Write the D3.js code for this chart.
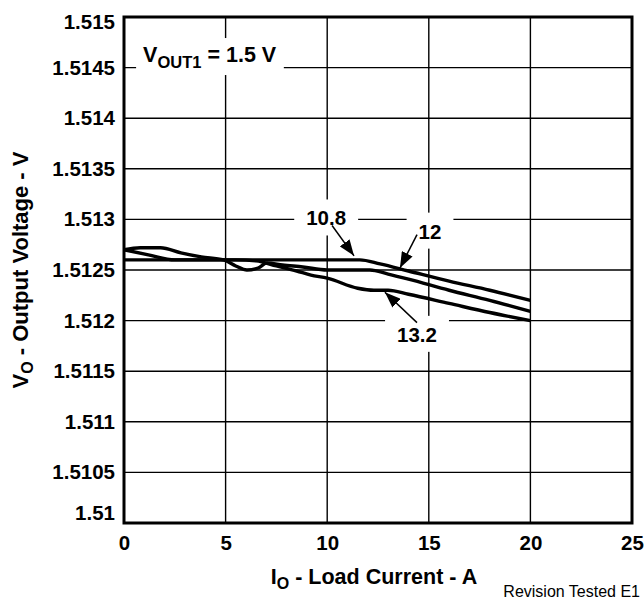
<!DOCTYPE html>
<html>
<head>
<meta charset="utf-8">
<script src="https://cdn.jsdelivr.net/npm/d3@7"></script>
<style>
  body { margin: 0; background: #fff; }
  text { font-family: "Liberation Sans", Arial, sans-serif; }
</style>
</head>
<body>
<script>

// load current ticks (A) and output voltage ticks (V)
var xTicks = [0, 5, 10, 15, 20, 25];
var yTicks = [1.51, 1.5105, 1.511, 1.5115, 1.512, 1.5125, 1.513, 1.5135, 1.514, 1.5145, 1.515];
var yTickLabels = ["1.51", "1.5105", "1.511", "1.5115", "1.512", "1.5125", "1.513", "1.5135", "1.514", "1.5145", "1.515"];

// VIN = 10.8 V
var current108 = [0, 2, 4, 6, 8, 10, 11.6, 12.6, 14, 16, 18, 20];
var vout108 = [1.5126, 1.5126, 1.5126, 1.5126, 1.5126, 1.5126, 1.5126, 1.51256, 1.51249, 1.51239, 1.5123, 1.5122];

// VIN = 12 V
var current12 = [0, 0.8, 1.8, 2.8, 3.8, 4.9, 5.5, 6.05, 6.6, 7.05, 7.8, 8.8, 10, 11, 12.1, 13, 14, 16, 18, 20];
var vout12 = [1.5127, 1.51272, 1.51272, 1.51267, 1.51263, 1.5126, 1.51254, 1.5125, 1.51252, 1.51257, 1.51255, 1.51253, 1.5125, 1.5125, 1.5125, 1.51246, 1.51241, 1.5123, 1.5122, 1.51209];

// VIN = 13.2 V
var current132 = [0, 1.2, 2.5, 4, 5.5, 6.5, 7.5, 8.5, 9.2, 10, 11.5, 12.3, 13, 14, 16, 18, 20];
var vout132 = [1.5127, 1.51265, 1.5126, 1.5126, 1.5126, 1.51259, 1.51254, 1.51249, 1.51245, 1.51242, 1.51232, 1.5123, 1.5123, 1.51226, 1.51217, 1.51208, 1.512];

// curve labels: text, label position, arrow start, arrow tip (data units)
var curveLabels = ["10.8", "12", "13.2"];
var labelX = [9.95, 15.06, 14.42];
var labelY = [1.51294, 1.51281, 1.51179];
var arrowFrom = [[10.24, 1.51294], [14.42, 1.51285], [14.42, 1.51198]];
var arrowTo = [[11.32, 1.51264], [13.58, 1.51252], [12.84, 1.51228]];

var width = 644, height = 600;
var plotLeft = 124, plotRight = 632, plotTop = 17, plotBottom = 523;

var svg = d3.select("body").append("svg")
  .attr("width", width).attr("height", height);

var x = d3.scaleLinear().domain([0, 25]).range([plotLeft, plotRight]);
var y = d3.scaleLinear().domain([1.51, 1.515]).range([plotBottom, plotTop]);

// grid
var grid = svg.append("g").attr("stroke", "#000").attr("stroke-width", 1.4);
grid.selectAll(".vg").data(xTicks.slice(1, -1)).enter().append("line")
  .attr("x1", function(d){ return x(d); }).attr("x2", function(d){ return x(d); })
  .attr("y1", plotTop).attr("y2", plotBottom);
grid.selectAll(".hg").data(yTicks.slice(1, -1)).enter().append("line")
  .attr("y1", function(d){ return y(d); }).attr("y2", function(d){ return y(d); })
  .attr("x1", plotLeft).attr("x2", plotRight);

// white boxes behind labels hide the grid
var boxes = svg.append("g");

// border
svg.append("rect")
  .attr("x", plotLeft).attr("y", plotTop)
  .attr("width", plotRight - plotLeft).attr("height", plotBottom - plotTop)
  .attr("fill", "none").attr("stroke", "#000").attr("stroke-width", 3);

// axes
var yAxis = d3.axisLeft(y).tickValues(yTicks).tickSize(0).tickPadding(9)
  .tickFormat(function(d, i){ return yTickLabels[i]; });
var gy = svg.append("g").attr("transform", "translate(" + plotLeft + ",0)").call(yAxis);
var xAxis = d3.axisBottom(x).tickValues(xTicks).tickSize(0).tickPadding(12)
  .tickFormat(d3.format("d"));
var gx = svg.append("g").attr("transform", "translate(0," + plotBottom + ")").call(xAxis);

[gx, gy].forEach(function(g){
  g.select(".domain").remove();
  g.selectAll("text").attr("font-size", 20.5).attr("font-weight", "bold")
    .attr("fill", "#000");
});
// end labels sit inside the frame
gy.selectAll("text").filter(function(d){ return d === 1.515; }).attr("dy", "0.55em");
gy.selectAll("text").filter(function(d){ return d === 1.51; }).attr("dy", "-0.15em");

// curves
var line = d3.line()
  .x(function(d){ return x(d[0]); })
  .y(function(d){ return y(d[1]); })
  .curve(d3.curveMonotoneX);

[[current108, vout108], [current12, vout12], [current132, vout132]].forEach(function(s){
  var pts = s[0].map(function(c, i){ return [c, s[1][i]]; });
  svg.append("path").datum(pts)
    .attr("d", line)
    .attr("fill", "none").attr("stroke", "#000").attr("stroke-width", 3.4)
    .attr("stroke-linejoin", "round");
});

// VOUT1 label
var vlabel = svg.append("text")
  .attr("x", x(0.94)).attr("y", y(1.514555))
  .attr("font-size", 21.5).attr("font-weight", "bold");
vlabel.append("tspan").text("V");
vlabel.append("tspan").attr("font-size", 16.5).attr("dy", 6).text("OUT1");
vlabel.append("tspan").attr("dy", -6).text(" = 1.5 V");
var bb = vlabel.node().getBBox();
boxes.append("rect")
  .attr("x", bb.x - 7).attr("y", bb.y - 5)
  .attr("width", bb.width + 14).attr("height", bb.height + 9)
  .attr("fill", "#fff");

// curve labels
curveLabels.forEach(function(t, i){
  var txt = svg.append("text")
    .attr("x", x(labelX[i])).attr("y", y(labelY[i]))
    .attr("text-anchor", "middle")
    .attr("font-size", 20.5).attr("font-weight", "bold")
    .text(t);
  var b = txt.node().getBBox();
  boxes.append("rect")
    .attr("x", b.x - 12).attr("y", b.y - 7)
    .attr("width", b.width + 24).attr("height", b.height + 13)
    .attr("fill", "#fff");
});

// arrows
svg.append("defs").append("marker")
  .attr("id", "head")
  .attr("markerUnits", "userSpaceOnUse")
  .attr("viewBox", "0 0 16 12")
  .attr("refX", 16).attr("refY", 6)
  .attr("markerWidth", 16).attr("markerHeight", 12)
  .attr("orient", "auto")
  .append("path").attr("d", "M0,0L16,6L0,12Z").attr("fill", "#000");

arrowFrom.forEach(function(a, i){
  svg.append("line")
    .attr("x1", x(a[0])).attr("y1", y(a[1]))
    .attr("x2", x(arrowTo[i][0])).attr("y2", y(arrowTo[i][1]))
    .attr("stroke", "#000").attr("stroke-width", 1.5)
    .attr("marker-end", "url(#head)");
});

// axis titles
var xt = svg.append("text")
  .attr("x", 374).attr("y", 584)
  .attr("text-anchor", "middle")
  .attr("font-size", 21.5).attr("font-weight", "bold");
xt.append("tspan").text("I");
xt.append("tspan").attr("font-size", 16).attr("dy", 5).text("O");
xt.append("tspan").attr("dy", -5).text(" - Load Current - A");

var yt = svg.append("text")
  .attr("transform", "translate(28," + ((plotTop + plotBottom) / 2) + ") rotate(-90)")
  .attr("text-anchor", "middle")
  .attr("font-size", 22).attr("font-weight", "bold");
yt.append("tspan").text("V");
yt.append("tspan").attr("font-size", 16).attr("dy", 5).text("O");
yt.append("tspan").attr("dy", -5).text(" - Output Voltage - V");

svg.append("text")
  .attr("x", 640).attr("y", 597)
  .attr("text-anchor", "end")
  .attr("font-size", 16)
  .text("Revision Tested E1");

</script>
</body>
</html>
